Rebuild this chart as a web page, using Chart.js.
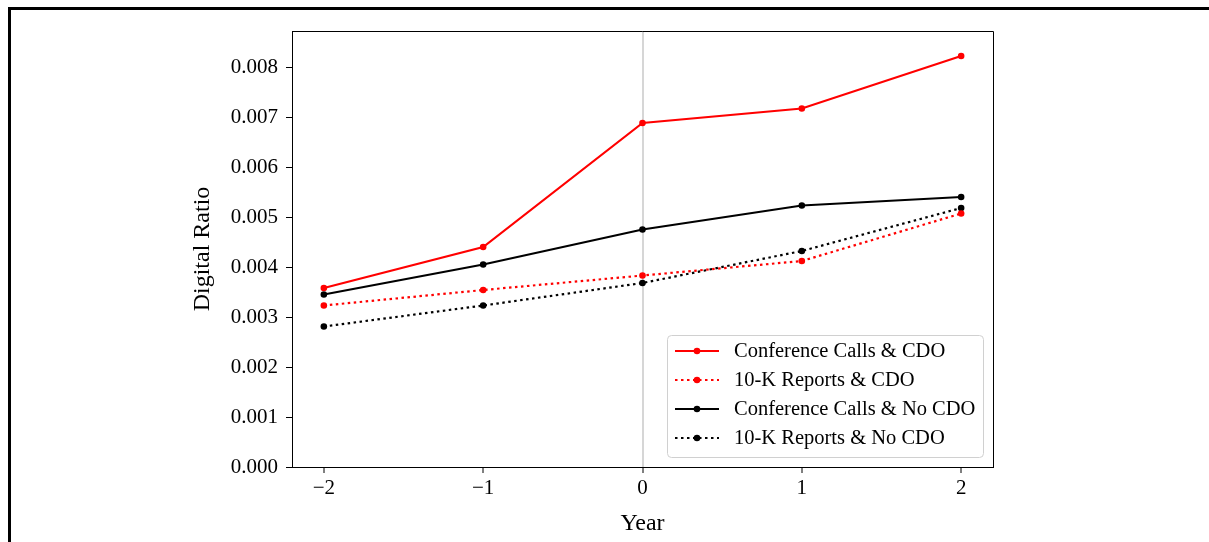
<!DOCTYPE html>
<html>
<head>
<meta charset="utf-8">
<script src="https://cdn.jsdelivr.net/npm/chart.js@4.4.0/dist/chart.umd.min.js"></script>
<style>
  html, body { margin: 0; padding: 0; background: #fff; overflow: hidden; }
  #wrap { position: relative; width: 1209px; height: 542px; overflow: hidden; }
  #frame { position: absolute; left: 8px; top: 7px; width: 1300px; height: 600px;
           border-top: 3px solid #000; border-left: 3px solid #000; pointer-events: none; }
</style>
</head>
<body>
<div id="wrap">
  <canvas id="graph" width="1209" height="542"></canvas>
  <div id="frame"></div>
</div>
<script>
// valores
const years = [-2, -1, 0, 1, 2];
const callsCDO = [0.00358, 0.00440, 0.00688, 0.00717, 0.00822];
const reportsCDO = [0.00323, 0.00354, 0.00383, 0.00412, 0.00507];
const callsNoCDO = [0.00345, 0.00405, 0.00475, 0.00523, 0.00540];
const reportsNoCDO = [0.00281, 0.00323, 0.00368, 0.00432, 0.00518];

const xTicks = [-2, -1, 0, 1, 2];
const yTicks = [0, 0.001, 0.002, 0.003, 0.004, 0.005, 0.006, 0.007, 0.008];

const serif = "'Liberation Serif', 'DejaVu Serif', serif";

const toPoints = (vals) => years.map((x, i) => ({ x: x, y: vals[i] }));

const makeSet = (label, vals, color, dotted) => ({
  label: label,
  data: toPoints(vals),
  borderColor: color,
  backgroundColor: color,
  borderWidth: 2.2,
  borderDash: dotted ? [2.5, 3.5] : [],
  pointRadius: 3.3,
  pointBorderWidth: 0,
  pointBackgroundColor: color,
  tension: 0,
  fill: false
});

// moldura superior/direita do eixo
const framePlugin = {
  id: 'frame',
  afterDatasetsDraw(chart) {
    const { ctx, chartArea: a } = chart;
    ctx.save();
    ctx.strokeStyle = '#000';
    ctx.lineWidth = 1;
    ctx.beginPath();
    ctx.moveTo(a.left, a.top + 0.5);
    ctx.lineTo(a.right + 0.5, a.top + 0.5);
    ctx.lineTo(a.right + 0.5, a.bottom);
    ctx.stroke();
    ctx.restore();
  }
};

// legenda desenhada dentro da área do gráfico
const legendPlugin = {
  id: 'boxLegend',
  afterDraw(chart) {
    const { ctx } = chart;
    const box = { x: 667.5, y: 335.5, w: 316, h: 122 };
    ctx.save();
    ctx.fillStyle = 'rgba(255,255,255,0.8)';
    ctx.strokeStyle = '#d0d0d0';
    ctx.lineWidth = 1;
    ctx.beginPath();
    ctx.roundRect(box.x, box.y, box.w, box.h, 4);
    ctx.fill();
    ctx.stroke();

    ctx.font = '20.5px ' + serif;
    ctx.textBaseline = 'middle';
    chart.data.datasets.forEach((ds, i) => {
      const y = 351 + i * 29;
      ctx.strokeStyle = ds.borderColor;
      ctx.lineWidth = ds.borderWidth;
      ctx.setLineDash(ds.borderDash);
      ctx.beginPath();
      ctx.moveTo(675, y);
      ctx.lineTo(719, y);
      ctx.stroke();
      ctx.setLineDash([]);
      ctx.fillStyle = ds.borderColor;
      ctx.beginPath();
      ctx.arc(697, y, ds.pointRadius, 0, Math.PI * 2);
      ctx.fill();
      ctx.fillStyle = '#000';
      ctx.fillText(ds.label, 734, y + 1);
    });
    ctx.restore();
  }
};

const ctxGraph = document.getElementById('graph').getContext('2d');

const graph = new Chart(ctxGraph, {
  type: 'line',
  data: {
    datasets: [
      makeSet('Conference Calls & CDO', callsCDO, '#ff0000', false),
      makeSet('10-K Reports & CDO', reportsCDO, '#ff0000', true),
      makeSet('Conference Calls & No CDO', callsNoCDO, '#000000', false),
      makeSet('10-K Reports & No CDO', reportsNoCDO, '#000000', true)
    ]
  },
  plugins: [framePlugin, legendPlugin],
  options: {
    responsive: false,
    animation: false,
    layout: { padding: { left: 184, top: 31, right: 216, bottom: 0 } },
    plugins: {
      legend: { display: false },
      tooltip: { enabled: false }
    },
    scales: {
      x: {
        type: 'linear',
        min: -2.2,
        max: 2.2,
        afterBuildTicks: (s) => { s.ticks = xTicks.map(v => ({ value: v })); },
        afterFit: (s) => { s.height = 75; },
        title: {
          display: true,
          text: 'Year',
          color: '#000',
          font: { family: serif, size: 24 },
          padding: { top: 4, bottom: 4 }
        },
        ticks: {
          color: '#000',
          font: { family: serif, size: 21 },
          padding: 3,
          maxRotation: 0,
          callback: (v) => (v < 0 ? '\u2212' + Math.abs(v) : String(v))
        },
        grid: {
          drawOnChartArea: true,
          color: (c) => (c.tick && c.tick.value === 0 ? 'rgba(0,0,0,0.16)' : 'rgba(0,0,0,0)'),
          lineWidth: 2,
          tickColor: '#000',
          tickWidth: 1,
          tickLength: 6
        },
        border: { display: true, color: '#000', width: 1 }
      },
      y: {
        type: 'linear',
        min: 0,
        max: 0.00872,
        afterBuildTicks: (s) => { s.ticks = yTicks.map(v => ({ value: v })); },
        afterFit: (s) => { s.width = 108; },
        title: {
          display: true,
          text: 'Digital Ratio',
          color: '#000',
          font: { family: serif, size: 24 },
          padding: { top: 4, bottom: 4 }
        },
        ticks: {
          color: '#000',
          font: { family: serif, size: 21 },
          padding: 8,
          callback: (v) => v.toFixed(3)
        },
        grid: {
          drawOnChartArea: false,
          tickColor: '#000',
          tickWidth: 1,
          tickLength: 6
        },
        border: { display: true, color: '#000', width: 1 }
      }
    }
  }
});
</script>
</body>
</html>
